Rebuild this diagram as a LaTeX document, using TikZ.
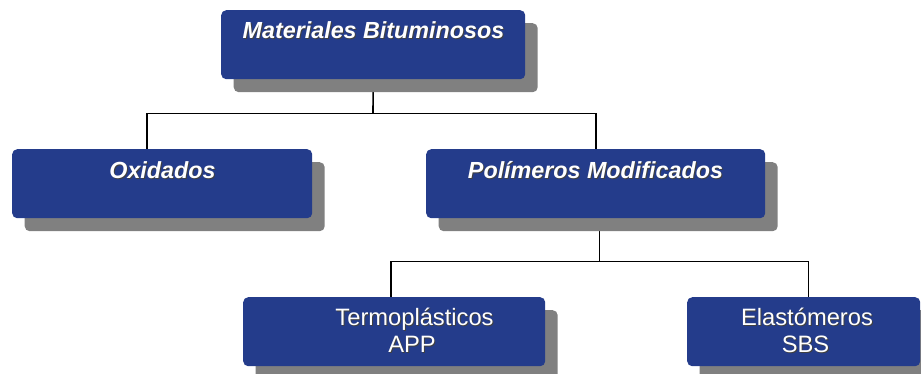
\documentclass[tikz,border=0pt]{standalone}
\usepackage{fontspec}
\setmainfont{Liberation Sans}
\usetikzlibrary{shadows,backgrounds,calc}
\definecolor{boxblue}{HTML}{243C8B}
\definecolor{shadowgray}{HTML}{808080}
\newcommand\shd[1]{\makebox[0pt][l]{\kern1pt\raisebox{-1pt}{\textcolor{black!75}{#1}}}#1}
\tikzset{
  orgbox/.style={rectangle, rounded corners=5pt, fill=boxblue, draw=none, inner sep=0pt,
    anchor=north west,
    drop shadow={shadow xshift=12.5pt, shadow yshift=-13pt, fill=shadowgray, opacity=1}},
  headtxt/.style={text=white, anchor=base, inner sep=0pt, font=\fontsize{23.3}{25}\selectfont\bfseries\itshape},
  subtxt/.style={text=white, anchor=base, inner sep=0pt, font=\fontsize{23.7}{26}\selectfont},
  conn/.style={draw=black, line width=1.6pt}
}
\begin{document}
\begin{tikzpicture}[x=1pt,y=-1pt]
\useasboundingbox (0,0) rectangle (921,373);
\node[orgbox, minimum width=304pt, minimum height=69pt] (b1) at (221,10) {};
\node[orgbox, minimum width=300pt, minimum height=69pt] (ox) at (12,149) {};
\node[orgbox, minimum width=339pt, minimum height=69pt] (pol) at (426,149) {};
\node[orgbox, minimum width=302pt, minimum height=69pt] (ter) at (243,297) {};
\node[orgbox, minimum width=233pt, minimum height=69pt] (ela) at (687,297) {};

\node[headtxt] (t1) at (373.5,38.3) {\shd{Materiales Bituminosos}};
\node[headtxt] (t2) at (162.5,178.3) {\shd{Oxidados}};
\node[headtxt] (t3) at (595.5,178.3) {\shd{Polímeros Modificados}};
\node[subtxt] (t4a) at (414.5,325) {\shd{Termoplásticos}};
\node[subtxt] (t4b) at (412,352.7) {\shd{APP}};
\node[subtxt] (t5a) at (807,325) {\shd{Elastómeros}};
\node[subtxt] (t5b) at (805.5,352.7) {\shd{SBS}};

\coordinate (j1) at (373,113.5);
\coordinate (j2) at (599.5,261.5);
\begin{pgfonlayer}{background}
\draw[conn] (b1.south) -- (j1);
\draw[conn] ([xshift=135pt]ox.north west) |- (j1) -| (pol.north);
\draw[conn] (j2 |- pol.south) -- (j2);
\draw[conn] ([xshift=148pt]ter.north west) |- (j2) -| ([xshift=-112pt]ela.north east);
\end{pgfonlayer}
\end{tikzpicture}
\end{document}
